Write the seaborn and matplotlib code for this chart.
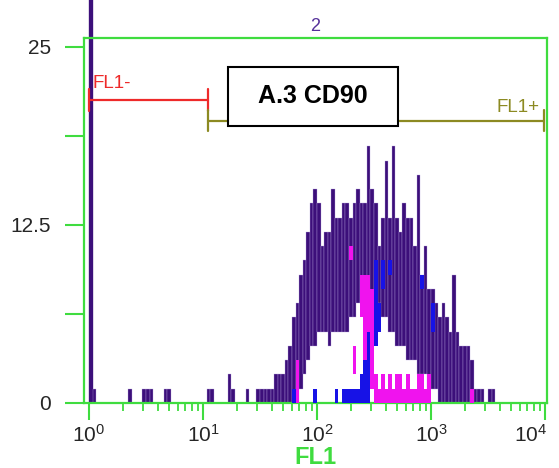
import numpy as np
import matplotlib
matplotlib.use("Agg")
import matplotlib.pyplot as plt
import matplotlib.transforms as mtransforms
import seaborn as sns
from matplotlib.patches import Rectangle
from matplotlib.ticker import FixedLocator, LogLocator, NullFormatter

# ---------------- data (counts per log channel, 32 channels / decade) ----------------
bins_per_decade = 32
n_bins = 128

purple_hi = [30, 1, 0, 0, 0, 0, 0, 0, 0, 0, 0, 1, 0, 0, 0, 1,
             1, 1, 0, 0, 0, 1, 1, 0, 0, 0, 0, 0, 0, 0, 0, 0,
             0, 1, 1, 0, 0, 0, 0, 2, 1, 0, 0, 0, 1, 0, 0, 1,
             1, 1, 1, 1, 2, 2, 2, 3, 4, 6, 7, 9, 10, 12, 14, 15,
             14, 11, 12, 12, 15, 13, 13, 14, 14, 13, 14, 15, 14, 14, 18, 15,
             14, 11, 13, 17, 13, 18, 13, 12, 14, 13, 13, 11, 16, 9, 11, 8,
             8, 7, 6, 7, 6, 5, 9, 5, 4, 4, 4, 3, 1, 1, 1, 0,
             1, 1, 0, 0, 0, 0, 0, 0, 0, 0, 0, 0, 0, 0, 0, 0]
purple_lo = [0] * 59 + [1, 2, 3, 4, 4,
             5, 5, 5, 4, 5, 5, 5, 5, 5, 6, 6, 7, 7, 7, 7, 7,
             7, 7, 6, 6, 5, 5, 4, 4, 4, 3, 3, 3, 2, 2, 2, 1,
             1, 1] + [0] * 30

magenta_hi = [0] * 58 + [3] + [0] * 14 + [11, 4, 0, 9, 9, 9, 8,
              2, 1, 2, 1, 2, 1, 2, 2, 1, 2, 1, 1, 2, 2, 1, 2,
              0, 0, 0, 0, 0, 0, 0, 0, 0, 0, 0, 1] + [0] * 20
magenta_lo = [0] * 73 + [10, 2, 0, 6, 3, 5, 1] + [0] * 48

blue_hi = [0] * 57 + [1, 0, 0, 0, 0, 0, 1, 0, 0, 0, 0, 0, 1, 0, 1, 1, 1, 1, 1, 2, 3, 5, 0,
           10, 7, 10, 0, 10, 0, 0, 0, 0, 0, 0, 0, 0, 9, 0, 0, 7] + [0] * 31
blue_lo = [0] * 80 + [4, 5, 8, 0, 9, 0, 0, 0, 0, 0, 0, 0, 0, 8, 0, 0, 5] + [0] * 31

y_ticks = [0, 6.25, 12.5, 18.75, 25]
y_tick_labels = ["0", "", "12.5", "", "25"]
x_ticks = [1, 10, 100, 1000, 10000]
x_tick_labels = [r"$10^{0}$", r"$10^{1}$", r"$10^{2}$", r"$10^{3}$", r"$10^{4}$"]

# gates (log10 positions, y level)
gate_minus = (0.0, 1.044, 21.25)
gate_plus = (1.044, 3.99, 19.8)

# ---------------- style ----------------
sns.set_theme(style="white")
plt.rcParams["font.family"] = ["Liberation Sans", "DejaVu Sans"]
plt.rcParams["mathtext.fontset"] = "custom"
plt.rcParams["mathtext.rm"] = "Liberation Sans"
plt.rcParams["mathtext.default"] = "regular"

GREEN = "#3fdc3f"
PURPLE = "#3c0f7a"
LAV = "#b9a3de"
BLUE = "#1712e6"
MAGENTA = "#f013ee"
RED = "#ee2a2a"
OLIVE = "#8c8a22"

W, H = 559, 468
fig = plt.figure(figsize=(W / 100, H / 100), dpi=100)
ax = fig.add_axes([84 / W, 1 - 403 / H, (547 - 84) / W, (403 - 38) / H])
ax.set_xscale("log")

edges = 10 ** (np.arange(n_bins + 1) / bins_per_decade)
lefts = edges[:-1]
widths = np.diff(edges)


def draw(hi, lo, color, edge=None, lw=0.0, z=2):
    hi = np.asarray(hi, float)
    lo = np.asarray(lo, float)
    m = hi > lo
    bars = ax.bar(lefts[m], hi[m] - lo[m], width=widths[m], bottom=lo[m], align="edge",
                  color=color, edgecolor=edge if edge else color, linewidth=lw, zorder=z)
    return bars


pb = draw(purple_hi, purple_lo, PURPLE, LAV, 0.25, 2)
pb[0].set_clip_on(False)
pb[0].set_edgecolor(PURPLE)
draw(blue_hi, blue_lo, BLUE, None, 0.0, 3)
draw(magenta_hi, magenta_lo, MAGENTA, None, 0.0, 4)

ax.set_xlim(10 ** -0.044, 10 ** 4.018)
ax.set_ylim(0, 25.6)

for s in ax.spines.values():
    s.set_color(GREEN)
    s.set_linewidth(1.6)

ax.xaxis.set_major_locator(FixedLocator(x_ticks))
ax.set_xticklabels(x_tick_labels)
ax.xaxis.set_minor_locator(LogLocator(base=10, subs=np.arange(2, 10)))
ax.xaxis.set_minor_formatter(NullFormatter())
ax.set_yticks(y_ticks)
ax.set_yticklabels(y_tick_labels)
ax.tick_params(axis="x", which="major", direction="out", length=12, width=1.5,
               color=GREEN, labelsize=15, pad=3, bottom=True)
ax.tick_params(axis="x", which="minor", direction="out", length=6, width=1.3,
               color=GREEN, bottom=True)
ax.tick_params(axis="y", which="major", direction="out", length=13.5, width=1.5,
               color=GREEN, labelsize=15, pad=10, left=True)
ax.grid(False)

# shift the last x tick label left so it stays inside the figure
last = ax.get_xticklabels()[-1]
last.set_transform(last.get_transform() + mtransforms.ScaledTranslation(-10 / 72, 0, fig.dpi_scale_trans))

ax.set_xlabel("FL1", color=GREEN, fontsize=17, fontweight="bold", labelpad=0)
ax.set_title("2", color="#55309a", fontsize=13, pad=5)

# gates
for (a, b, y), col in [(gate_minus, RED), (gate_plus, OLIVE)]:
    ax.plot([10 ** a, 10 ** b], [y, y], color=col, lw=1.6, zorder=5, clip_on=False)
    for xv in (a, b):
        ax.plot([10 ** xv, 10 ** xv], [y - 0.75, y + 0.75], color=col, lw=1.6,
                zorder=5, clip_on=False)
ax.text(10 ** 0.03, 22.4, "FL1-", color=RED, fontsize=13.5, ha="left", va="center", zorder=6)
ax.text(10 ** 3.956, 20.76, "FL1+", color=OLIVE, fontsize=13.5, ha="right", va="center", zorder=6)

# annotation box
fig.patches.append(Rectangle((228 / W, 1 - 126 / H), 170 / W, 59 / H, transform=fig.transFigure,
                             facecolor="white", edgecolor="black", linewidth=1.5, zorder=10))
fig.text(313 / W, 1 - 96.5 / H, "A.3 CD90", fontsize=18, fontweight="bold", color="black",
         ha="center", va="center", zorder=11)

fig.savefig("out.png", dpi=100)
